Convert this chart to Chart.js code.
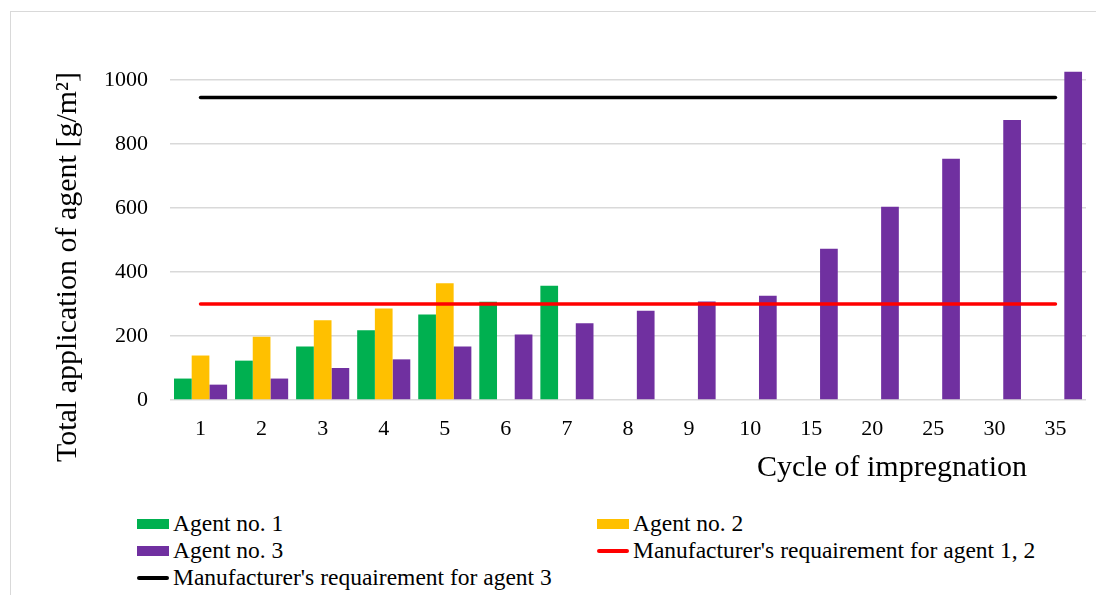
<!DOCTYPE html>
<html>
<head>
<meta charset="utf-8">
<title>Total application of agent</title>
<script src="https://cdn.jsdelivr.net/npm/chart.js@4"></script>
<style>
  html, body { margin: 0; overflow: hidden; background: #fff; }
  #frame { position: absolute; left: 10px; top: 11px; width: 1200px; height: 700px; border: 1px solid #d9d9d9; }
  #chart { position: absolute; left: 0; top: 0; }
  #legend {
    position: absolute; left: 137px; top: 510px;
    display: grid; grid-template-columns: 460px 460px; grid-auto-rows: 27px;
    font: 23.5px "Liberation Serif", "Times New Roman", serif; color: #000;
  }
  .item { display: flex; align-items: center; white-space: nowrap; }
  .mark { display: inline-block; width: 32px; margin-right: 4px; }
  .mark.box { height: 10px; }
  .mark.line { height: 4px; border-radius: 2px; }
</style>
</head>
<body>
<div id="frame"></div>
<canvas id="chart" width="1096" height="500"></canvas>
<div id="legend"></div>
<script>
// Data
const cycles = ["1", "2", "3", "4", "5", "6", "7", "8", "9", "10", "15", "20", "25", "30", "35"];
const agent1 = [67, 123, 167, 218, 267, 307, 357, null, null, null, null, null, null, null, null];
const agent2 = [139, 198, 249, 286, 365, null, null, null, null, null, null, null, null, null, null];
const agent3 = [48, 67, 100, 127, 167, 205, 240, 279, 308, 326, 473, 604, 754, 875, 1026];
const req12 = [300, 300, 300, 300, 300, 300, 300, 300, 300, 300, 300, 300, 300, 300, 300];
const req3 = [945, 945, 945, 945, 945, 945, 945, 945, 945, 945, 945, 945, 945, 945, 945];
const yTicks = [0, 200, 400, 600, 800, 1000];

const serif = '"Liberation Serif", "Times New Roman", serif';
Chart.defaults.font.family = serif;
Chart.defaults.color = "#000";

// axis titles sit off-centre like in the original, so draw them here
const axisTitles = {
  id: "axisTitles",
  afterDraw(chart) {
    const { ctx, chartArea } = chart;
    ctx.save();
    ctx.fillStyle = "#000";
    ctx.font = "30px " + serif;
    ctx.textBaseline = "alphabetic";
    ctx.textAlign = "right";
    ctx.fillText("Cycle of impregnation", chartArea.right - 59, chartArea.bottom + 76);
    ctx.translate(chartArea.left - 94.5, chartArea.bottom - 133);
    ctx.rotate(-Math.PI / 2);
    ctx.textAlign = "center";
    ctx.fillText("Total application of agent [g/m²]", 0, 0);
    ctx.restore();
  }
};

const chart = new Chart(document.getElementById("chart"), {
  type: "bar",
  data: {
    labels: cycles,
    datasets: [
      { label: "Agent no. 1", data: agent1, backgroundColor: "#00B050", order: 1 },
      { label: "Agent no. 2", data: agent2, backgroundColor: "#FFC000", order: 1 },
      { label: "Agent no. 3", data: agent3, backgroundColor: "#7030A0", order: 1 },
      {
        type: "line", label: "Manufacturer's requairement for agent 1, 2", data: req12,
        borderColor: "#FF0000", backgroundColor: "#FF0000", borderWidth: 3.5,
        pointRadius: 0, borderCapStyle: "round", order: 0
      },
      {
        type: "line", label: "Manufacturer's requairement for agent 3", data: req3,
        borderColor: "#000000", backgroundColor: "#000000", borderWidth: 3.5,
        pointRadius: 0, borderCapStyle: "round", order: 0
      }
    ]
  },
  options: {
    responsive: false,
    animation: false,
    layout: { padding: { top: 48, right: 10, left: 0, bottom: 0 } },
    datasets: { bar: { categoryPercentage: 0.87, barPercentage: 1 } },
    plugins: { legend: { display: false }, tooltip: { enabled: false } },
    scales: {
      x: {
        grid: { display: false, drawTicks: false, tickLength: 0 },
        border: { display: false },
        ticks: { font: { size: 22 }, padding: 16, maxRotation: 0 },
        afterFit: (s) => { s.height = 100; }
      },
      y: {
        min: 0,
        max: 1100,
        grid: { color: "#d9d9d9", lineWidth: 1.5, drawTicks: false, tickLength: 0 },
        border: { display: false },
        ticks: { stepSize: 200, font: { size: 22 }, padding: 22, callback: (v) => String(v) },
        afterBuildTicks: (s) => { s.ticks = yTicks.map(v => ({ value: v })); },
        afterFit: (s) => { s.width = 170; }
      }
    }
  },
  plugins: [axisTitles]
});

// Legend in two columns like the original
const legendBox = document.getElementById("legend");
chart.data.datasets.forEach(ds => {
  const item = document.createElement("div");
  item.className = "item";
  const mark = document.createElement("span");
  const isLine = ds.type === "line";
  mark.className = "mark " + (isLine ? "line" : "box");
  mark.style.background = isLine ? ds.borderColor : ds.backgroundColor;
  const text = document.createElement("span");
  text.textContent = ds.label;
  item.appendChild(mark);
  item.appendChild(text);
  legendBox.appendChild(item);
});
</script>
</body>
</html>
